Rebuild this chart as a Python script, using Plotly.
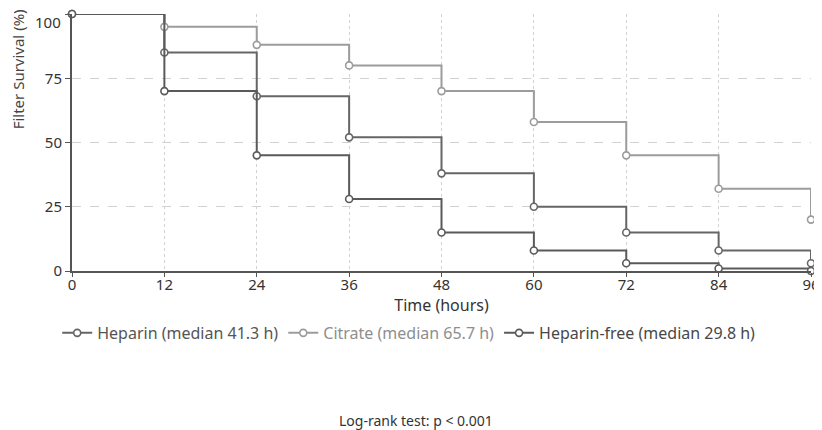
import plotly.graph_objects as go

time_h = [0, 12, 24, 36, 48, 60, 72, 84, 96]
heparin = [100, 85, 68, 52, 38, 25, 15, 8, 3]
citrate = [100, 95, 88, 80, 70, 58, 45, 32, 20]
heparin_free = [100, 70, 45, 28, 15, 8, 3, 1, 0]

series = [
    ("Heparin (median 41.3 h)", heparin, "#666666", "#555555"),
    ("Citrate (median 65.7 h)", citrate, "#9c9c9c", "#8e8e8e"),
    ("Heparin-free (median 29.8 h)", heparin_free, "#5a5a5a", "#484848"),
]
x_ticks = [0, 12, 24, 36, 48, 60, 72, 84, 96]
y_ticks = [0, 25, 50, 75, 100]
y_ticktext = ["0", "25", "50", "75", ""]   # top label drawn slightly lower below

font = "Noto Sans, Open Sans, sans-serif"
fig = go.Figure()
for name, vals, col, tcol in series:
    fig.add_trace(go.Scatter(
        x=time_h, y=vals, mode="lines+markers",
        name=f'<span style="color:{tcol}">{name}</span>',
        line=dict(color=col, width=2, shape="hv"),
        marker=dict(symbol="circle", size=7, color="white",
                    line=dict(color=col, width=1.6)),
        cliponaxis=False,
    ))

fig.update_layout(
    width=814, height=422,
    margin=dict(l=64, r=11, t=6, b=159, autoexpand=False),
    paper_bgcolor="white", plot_bgcolor="white",
    font=dict(family=font, size=15, color="#333333"),
    showlegend=True,
    legend=dict(orientation="h", x=-0.02, xanchor="left", y=-0.241, yanchor="middle",
                font=dict(size=16), itemwidth=30, tracegroupgap=0),
    xaxis=dict(range=[0, 96], tickvals=x_ticks, ticks="outside", ticklen=4,
               tickcolor="#555", showline=True, linecolor="#555", linewidth=2,
               showgrid=True, gridcolor="#d2d2d2", griddash="dot", gridwidth=1,
               zeroline=False, automargin=False, ticklabelstandoff=-5,
               ticklabeloverflow="allow",
               tickfont=dict(size=15, color="#333"),
               title=dict(text="Time (hours)", standoff=2, font=dict(size=16))),
    yaxis=dict(range=[0, 100], tickvals=y_ticks, ticktext=y_ticktext,
               ticks="outside", ticklen=5,
               tickcolor="#555", showline=True, linecolor="#555", linewidth=2,
               showgrid=True, gridcolor="#d2d2d2", griddash="dash", gridwidth=1,
               zeroline=False, automargin=False, ticklabeloverflow="allow",
               tickfont=dict(size=15, color="#333")),
    annotations=[
        dict(text=str(y_ticks[-1]), xref="paper", yref="y",
             x=-0.0125, y=y_ticks[-1], xanchor="right", yanchor="top", yshift=4,
             showarrow=False, font=dict(size=15, color="#333")),
        dict(text="Filter Survival (%)", xref="paper", yref="paper",
             x=-0.0726, y=0.786, xanchor="center", yanchor="middle", textangle=-90,
             showarrow=False, font=dict(size=15, color="#444")),
        dict(text="Log-rank test: p < 0.001", xref="paper", yref="paper",
             x=0.465, y=-0.58, xanchor="center", yanchor="middle",
             showarrow=False, font=dict(size=14, color="#333")),
    ],
)
fig.write_html("out.html")
